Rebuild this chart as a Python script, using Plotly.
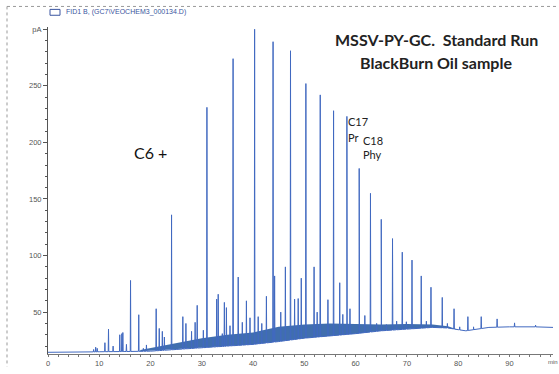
import numpy as np
import plotly.graph_objects as go

# ---- data ----
# baseline (lower edge of signal), retention time in min, signal in pA
base_t = [0, 5, 10, 15, 20, 25, 30, 35, 40, 45, 50, 55, 60, 65, 70, 75, 78, 80, 81.5, 83, 86, 90, 95, 98.5]
base_v = [14.5, 14.5, 15, 15.2, 15.5, 17, 18.5, 20, 21.5, 24, 27, 29, 31, 33.5, 35, 36.5, 36, 34.5, 33.5, 34.5, 36.5, 37, 37, 36.5]

# top of the dense unresolved hump band
band_t = [18, 22, 26, 30, 35, 40, 45, 50, 55, 60, 65, 70, 75, 78, 80]
band_v = [16.5, 20, 24, 27, 30, 32, 37, 39, 40, 39.5, 39, 39.5, 39, 37.5, 35]

# n-alkane peaks
main_t = [16.1, 24.1, 31.0, 36.1, 40.3, 43.9, 47.3, 50.3, 53.1, 55.7, 58.3, 60.7, 62.9, 65.0,
          67.2, 69.1, 71.0, 72.8, 74.7, 76.9, 79.2, 81.9, 84.5, 87.6, 91.0, 95.1]
main_v = [78, 136, 231, 274, 300, 289, 281, 252, 242, 228, 223, 177, 155, 132,
          115, 103, 96, 82, 72, 63, 53, 46, 46, 44, 40.5, 38.5]

# smaller peaks (incl. pristane and phytane)
minor_t = [8.9, 9.3, 9.6, 11.1, 11.8, 12.7, 14.0, 14.4, 14.6, 15.3, 17.7, 18.6, 19.2, 21.1, 21.7,
           22.3, 22.7, 26.3, 26.9, 28.0, 28.7, 29.1, 30.3, 32.2, 32.9, 33.2, 34.0, 34.4, 34.8,
           35.5, 37.1, 37.9, 38.7, 39.4, 41.0, 41.7, 42.6, 44.2, 45.4, 46.3, 48.1, 48.8, 49.4,
           51.9, 52.5, 54.6, 56.9, 57.5, 58.35, 58.9, 60.75, 61.8, 64.1, 66.0, 68.0, 69.9,
           73.8, 77.9, 80.3, 83.0]
minor_v = [17, 19, 18, 23, 35, 20, 30, 31, 32, 21.5, 47.7, 18, 21, 53, 35.6,
           33, 28, 46, 40, 33, 41, 56, 34, 27, 61.5, 65.8, 31, 58.6, 54,
           38, 81, 41, 60, 45, 46, 40, 64, 82, 50, 90, 61.5, 62, 80,
           90, 50, 61, 76, 48, 155, 53, 135, 47, 40, 39, 42, 41.5,
           42, 40, 37, 37]

x_ticks = [0, 10, 20, 30, 40, 50, 60, 70, 80, 90]
y_ticks = [50, 100, 150, 200, 250, 300]
y_tick_text = ["50", "100", "150", "200", "250", "pA"]

# ---- build the signal trace ----
pts = [(t, v) for t, v in zip(base_t, base_v)]
for t, v in list(zip(main_t, main_v)) + list(zip(minor_t, minor_v)):
    d = 0.06
    pts.append((t - d, float(np.interp(t - d, base_t, base_v))))
    pts.append((t, v))
    pts.append((t + d, float(np.interp(t + d, base_t, base_v))))
pts.sort(key=lambda p: p[0])
sig_t = [p[0] for p in pts]
sig_v = [p[1] for p in pts]

band_low = [float(np.interp(t, base_t, base_v)) for t in band_t]

blue = "#4169c0"
fig = go.Figure()
fig.add_trace(go.Scatter(
    x=band_t + band_t[::-1], y=band_v + band_low[::-1], fill="toself",
    fillcolor="rgba(30,85,160,0.85)", line=dict(width=0), mode="lines", hoverinfo="skip"))
fig.add_trace(go.Scatter(x=sig_t, y=sig_v, mode="lines",
                         line=dict(color=blue, width=1), hoverinfo="skip"))

# ---- layout ----
L, R, T, B = 48, 6, 27, 13
W, H = 559, 374
pw, ph = W - L - R, H - T - B

def px(xp):
    return (xp - L) / pw

def py(yp):
    return (H - B - yp) / ph

tickfont = dict(family="Liberation Sans, Arial", size=7.5, color="#555")
fig.update_layout(
    width=W, height=H, margin=dict(l=L, r=R, t=T, b=B),
    paper_bgcolor="white", plot_bgcolor="white", showlegend=False,
    xaxis=dict(range=[0, 98.5], tickvals=x_ticks, showgrid=False, zeroline=False,
               showline=True, linecolor="#777", linewidth=1,
               ticks="outside", ticklen=2, tickcolor="#777", tickfont=tickfont,
               minor=dict(dtick=2, ticks="outside", ticklen=2, tickcolor="#777")),
    yaxis=dict(range=[13, 302], tickvals=y_ticks, ticktext=y_tick_text, showgrid=False,
               zeroline=False, showline=True, linecolor="#555", linewidth=1,
               ticks="outside", ticklen=4, tickcolor="#555", tickfont=tickfont,
               minor=dict(dtick=10, ticks="outside", ticklen=2, tickcolor="#555")),
)

# dashed frame (top and left)
fig.add_shape(type="line", xref="paper", yref="paper", x0=px(7), x1=px(W), y0=py(6), y1=py(6),
              line=dict(color="#999", width=1, dash="dot"))
fig.add_shape(type="line", xref="paper", yref="paper", x0=px(7), x1=px(7), y0=py(6), y1=py(H),
              line=dict(color="#999", width=1, dash="dot"))
# header icon + text
fig.add_shape(type="rect", xref="paper", yref="paper", x0=px(50), x1=px(60), y0=py(15), y1=py(9),
              line=dict(color="#3a55a0", width=1))
fig.add_annotation(xref="paper", yref="paper", x=px(64), y=py(12), xanchor="left", yanchor="middle",
                   text="FID1 B, (GC7\\VEOCHEM3_000134.D)", showarrow=False,
                   font=dict(family="Liberation Sans, Arial", size=7, color="#3a55a0"))
# x axis unit
fig.add_annotation(xref="paper", yref="paper", x=px(553), y=py(364), xanchor="center", yanchor="top",
                   text="min", showarrow=False, font=dict(family="Liberation Sans, Arial", size=6, color="#555"))

title_font = dict(family="Lato, Open Sans", size=16, color="#222")
fig.add_annotation(xref="paper", yref="paper", x=px(436), y=py(40), text="<b>MSSV-PY-GC.  Standard Run</b>",
                   showarrow=False, font=title_font, xanchor="center", yanchor="middle")
fig.add_annotation(xref="paper", yref="paper", x=px(436), y=py(63), text="<b>BlackBurn Oil sample</b>",
                   showarrow=False, font=title_font, xanchor="center", yanchor="middle")
fig.add_annotation(xref="paper", yref="paper", x=px(150), y=py(155), text="C6 +",
                   showarrow=False, font=dict(family="Lato, Open Sans", size=16, color="#111"),
                   xanchor="center", yanchor="middle")
lab_font = dict(family="Lato, Open Sans", size=11, color="#222")
for txt, xp, yp in [("C17", 346, 124), ("Pr", 346, 140), ("C18", 361, 143), ("Phy", 361, 157)]:
    fig.add_annotation(xref="paper", yref="paper", x=px(xp), y=py(yp), text=txt, showarrow=False,
                       font=lab_font, xanchor="left", yanchor="middle")

fig.write_html("out.html", config={"displayModeBar": False},
               post_script="document.body.style.margin='0';")
